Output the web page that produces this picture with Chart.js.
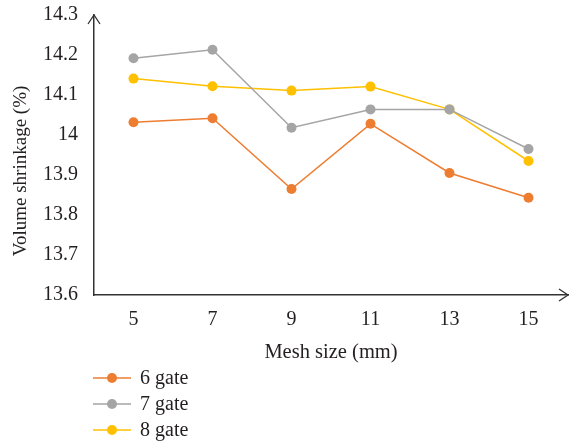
<!DOCTYPE html>
<html>
<head>
<meta charset="utf-8">
<script src="https://cdn.jsdelivr.net/npm/chart.js@4"></script>
<style>
  html, body { margin: 0; padding: 0; background: #fff; }
  #wrap { width: 573px; height: 442px; }
</style>
</head>
<body>
<div id="wrap"><canvas id="shrinkChart"></canvas></div>
<script>
// mesh sizes (mm) and volume shrinkage (%) for each gate count
const meshSizes = ['5', '7', '9', '11', '13', '15'];
const gate6 = [14.032, 14.042, 13.865, 14.028, 13.905, 13.843];
const gate7 = [14.192, 14.213, 14.018, 14.064, 14.064, 13.965];
const gate8 = [14.141, 14.122, 14.111, 14.121, 14.064, 13.935];
const seriesNames = ['6 gate', '7 gate', '8 gate'];
const seriesColors = ['#ED7D31', '#A5A5A5', '#FFC000'];
const yTitle = 'Volume shrinkage (%)';

const FONT = '"Liberation Serif", "DejaVu Serif", serif';
const AXIS_COLOR = '#333333';
const TEXT_COLOR = '#231F20';

// open arrowheads at the end of both axes, plus the rotated y title
const axisArrows = {
    id: 'axisArrows',
    afterDraw(chart) {
        const { ctx, chartArea } = chart;
        ctx.save();
        ctx.strokeStyle = AXIS_COLOR;
        ctx.lineWidth = 1.3;
        ctx.beginPath();
        ctx.moveTo(chartArea.left - 6, chartArea.top + 9);
        ctx.lineTo(chartArea.left, chartArea.top);
        ctx.lineTo(chartArea.left + 6, chartArea.top + 9);
        ctx.moveTo(chartArea.right - 9, chartArea.bottom - 6);
        ctx.lineTo(chartArea.right, chartArea.bottom);
        ctx.lineTo(chartArea.right - 9, chartArea.bottom + 6);
        ctx.stroke();

        ctx.translate(21, 171);
        ctx.rotate(-Math.PI / 2);
        ctx.font = '19px ' + FONT;
        ctx.fillStyle = TEXT_COLOR;
        ctx.textAlign = 'center';
        ctx.textBaseline = 'middle';
        ctx.fillText(yTitle, 0, 0);
        ctx.restore();
    }
};

// stacked legend below the x axis title
const stackedLegend = {
    id: 'stackedLegend',
    afterDraw(chart) {
        const { ctx } = chart;
        const rows = [378, 404, 430];
        ctx.save();
        ctx.font = '20px ' + FONT;
        ctx.textBaseline = 'middle';
        chart.data.datasets.forEach((ds, i) => {
            const y = rows[i];
            ctx.strokeStyle = ds.borderColor;
            ctx.lineWidth = 1.5;
            ctx.beginPath();
            ctx.moveTo(93, y);
            ctx.lineTo(131, y);
            ctx.stroke();
            ctx.fillStyle = ds.backgroundColor;
            ctx.beginPath();
            ctx.arc(112, y, 5, 0, Math.PI * 2);
            ctx.fill();
            ctx.fillStyle = TEXT_COLOR;
            ctx.fillText(ds.label, 140, y + 1);
        });
        ctx.restore();
    }
};

function makeDataset(label, values, color) {
    return {
        label: label,
        data: values,
        borderColor: color,
        backgroundColor: color,
        borderWidth: 1.5,
        pointRadius: 5,
        pointHoverRadius: 5,
        pointBorderWidth: 0,
        tension: 0
    };
}

new Chart(document.getElementById('shrinkChart'), {
    type: 'line',
    data: {
        labels: meshSizes,
        datasets: [
            makeDataset(seriesNames[0], gate6, seriesColors[0]),
            makeDataset(seriesNames[1], gate7, seriesColors[1]),
            makeDataset(seriesNames[2], gate8, seriesColors[2])
        ]
    },
    options: {
        responsive: true,
        maintainAspectRatio: false,
        animation: false,
        layout: { padding: { top: 15, right: 1, bottom: 77, left: 0 } },
        plugins: {
            legend: { display: false },
            tooltip: { enabled: false }
        },
        scales: {
            x: {
                offset: true,
                grid: { display: false, drawTicks: false },
                border: { display: true, color: AXIS_COLOR, width: 1.5 },
                ticks: { color: TEXT_COLOR, font: { family: FONT, size: 20 }, padding: 13 },
                title: {
                    display: true,
                    text: 'Mesh size (mm)',
                    color: TEXT_COLOR,
                    font: { family: FONT, size: 20.5 },
                    padding: { top: 0, bottom: 0 }
                },
                afterFit(scale) { scale.height = 70; }
            },
            y: {
                min: 13.6,
                max: 14.3,
                grid: { display: false, drawTicks: false },
                border: { display: true, color: AXIS_COLOR, width: 1.5 },
                ticks: {
                    stepSize: 0.1,
                    color: TEXT_COLOR,
                    font: { family: FONT, size: 20 },
                    padding: 16,
                    callback: v => String(+v.toFixed(1))
                },
                afterFit(scale) {
                    scale.width = 94;
                    scale.paddingTop = 0;
                    scale.paddingBottom = 0;
                }
            }
        }
    },
    plugins: [axisArrows, stackedLegend]
});
</script>
</body>
</html>
